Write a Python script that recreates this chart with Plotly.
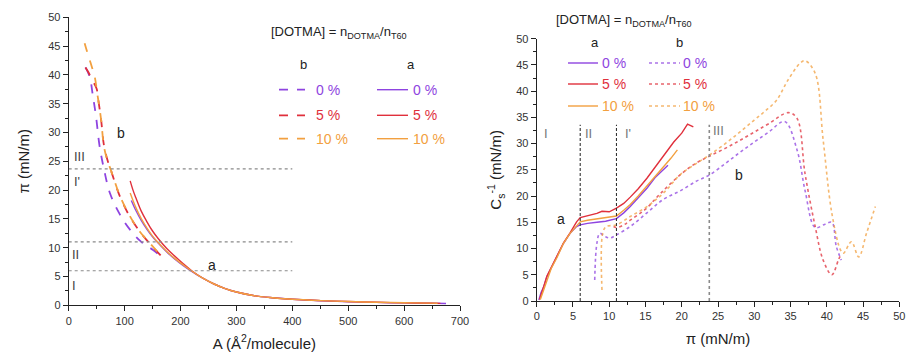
import plotly.graph_objects as go

# ---------------- DATA ----------------
# Left panel: pi-A isotherms
A_a0 = [112, 120, 130, 140, 150, 160, 175, 190, 205, 220, 240, 260, 280, 300, 330, 360, 400, 450, 500, 550, 600, 650, 675]
P_a0 = [18.2, 16.5, 14.7, 13.2, 11.9, 10.8, 9.3, 8.0, 6.9, 5.9, 4.7, 3.7, 2.9, 2.3, 1.7, 1.35, 1.05, 0.8, 0.62, 0.5, 0.42, 0.35, 0.3]
A_a5 = [110, 115, 120, 130, 140, 150, 160, 175, 190, 205, 220, 240, 260, 280, 300, 330, 360, 400, 450, 500, 550, 600, 650, 665]
P_a5 = [21.6, 20.0, 18.7, 16.3, 14.5, 12.9, 11.6, 9.9, 8.5, 7.2, 6.0, 4.7, 3.7, 2.9, 2.3, 1.7, 1.35, 1.05, 0.82, 0.65, 0.52, 0.43, 0.36, 0.34]
A_a10 = [110, 120, 130, 140, 150, 160, 175, 190, 205, 220, 240, 260, 280, 300, 330, 360, 400, 450, 500, 550, 600, 650, 660]
P_a10 = [19.5, 17.0, 15.0, 13.4, 12.0, 10.9, 9.4, 8.1, 7.0, 5.95, 4.7, 3.7, 2.9, 2.3, 1.7, 1.35, 1.05, 0.82, 0.66, 0.53, 0.45, 0.38, 0.36]

A_b0 = [30, 37.5, 43.5, 49, 55, 63, 74, 92, 110, 130, 151, 169]
P_b0 = [41.3, 39.7, 36.2, 32.7, 27.8, 23.7, 19.4, 15.7, 13.1, 11.0, 9.6, 8.2]
A_b5 = [30, 35, 40, 45, 50, 53, 58, 63, 70, 76, 92, 110, 128, 145, 165]
P_b5 = [41.3, 40.5, 39.5, 38.6, 37.6, 35.6, 32.2, 27.8, 25.0, 23.3, 18.8, 15.3, 12.7, 10.7, 8.6]
A_b10 = [28.5, 33, 37.5, 42, 46.5, 52, 58, 63, 69, 75, 92, 110, 127, 145, 167]
P_b10 = [45.5, 44.0, 42.6, 41.2, 39.7, 36.2, 32.2, 27.6, 25.2, 23.6, 18.9, 15.4, 12.8, 10.8, 8.4]

# region boundaries (mN/m)
regions_pi = [6, 11, 23.7]

# Right panel: compressional modulus vs surface pressure
S_a0 = [0.3, 0.6, 1.0, 1.4, 2.0, 2.8, 3.7, 4.6, 5.5, 6.0, 7.0, 8.3, 9.5, 11.0, 12.0, 12.9, 14.0, 15.2, 16.3, 17.0, 18.1]
C_a0 = [0.2, 1.6, 2.8, 4.6, 6.3, 8.4, 11.0, 12.9, 14.2, 14.5, 14.8, 15.0, 15.2, 15.7, 16.8, 18.0, 19.6, 21.5, 23.5, 24.5, 25.9]
S_a5 = [0.4, 0.7, 1.0, 1.4, 2.0, 2.8, 3.7, 4.6, 5.0, 5.5, 6.0, 7.0, 8.3, 9.0, 10.0, 11.0, 12.0, 12.9, 14.0, 15.2, 16.4, 17.5, 18.9, 20.0, 20.8, 21.6]
C_a5 = [0.3, 1.8, 2.9, 4.7, 6.4, 8.5, 11.1, 13.0, 14.0, 15.1, 15.9, 16.2, 16.7, 17.1, 17.0, 17.7, 18.6, 19.8, 21.4, 23.4, 25.6, 27.5, 30.3, 32.0, 33.7, 33.2]
S_a10 = [0.5, 0.8, 1.1, 1.5, 2.0, 2.8, 3.7, 4.6, 5.5, 6.0, 7.0, 8.3, 9.5, 11.0, 12.0, 12.9, 14.0, 15.2, 16.4, 17.5, 18.5, 19.4]
C_a10 = [0.3, 1.5, 2.6, 4.4, 6.2, 8.3, 11.0, 12.9, 14.4, 15.1, 15.4, 15.7, 15.9, 16.2, 17.3, 18.4, 20.0, 21.9, 24.0, 25.6, 27.2, 28.8]

S_b0 = [8.0, 8.3, 8.7, 9.4, 10.1, 11.0, 12.9, 15.2, 17.5, 19.8, 22.1, 23.8, 26.0, 28.0, 30.0, 32.0, 34.2, 35.9, 37.0, 38.4, 39.7, 40.7, 41.3, 42.0]
C_b0 = [4.0, 11.0, 12.9, 12.3, 12.0, 12.6, 14.2, 16.8, 19.4, 21.0, 22.9, 24.0, 26.2, 28.3, 30.3, 32.2, 34.2, 28.8, 21.1, 14.0, 14.6, 15.0, 10.5, 7.8]
S_b5 = [10.6, 11.0, 12.0, 13.0, 15.0, 17.0, 20.0, 22.0, 23.8, 26.0, 28.0, 30.0, 32.0, 34.7, 35.9, 37.0, 38.4, 39.5, 40.7, 41.6, 42.0]
C_b5 = [14.2, 14.0, 14.5, 15.5, 17.5, 20.4, 24.3, 26.3, 27.6, 29.1, 30.6, 32.2, 33.8, 35.9, 34.8, 24.3, 14.2, 7.8, 5.0, 7.8, 9.0]
S_b10 = [9.0, 9.1, 9.6, 11.0, 12.9, 15.2, 17.5, 19.8, 22.1, 23.8, 26.0, 28.0, 30.0, 31.5, 33.1, 34.6, 36.3, 37.0, 38.4, 39.5, 40.7, 41.9, 42.3, 43.4, 44.4, 45.5, 46.7]
C_b10 = [2.1, 12.9, 14.2, 14.5, 16.1, 18.0, 20.6, 24.1, 26.3, 27.8, 30.0, 32.2, 34.5, 36.2, 38.3, 42.0, 45.3, 45.8, 43.4, 30.7, 16.7, 9.7, 9.1, 11.3, 8.4, 13.0, 18.0]

# colours / labels
conc_labels = ["0 %", "5 %", "10 %"]
COL = ["#8E44E0", "#E0303C", "#F2A040"]

FONT = "Liberation Sans, Arial, sans-serif"
W, H = 907, 354


def px(x):
    return x / W


def py(y):
    return 1 - y / H


fig = go.Figure()

# --- left panel traces ---
for A, P, c in [(A_a0, P_a0, COL[0]), (A_a5, P_a5, COL[1]), (A_a10, P_a10, COL[2])]:
    fig.add_trace(go.Scatter(x=A, y=P, mode="lines", line=dict(color=c, width=1.4, shape="spline"),
                             xaxis="x", yaxis="y", showlegend=False))
for A, P, c in [(A_b0, P_b0, COL[0]), (A_b5, P_b5, COL[1]), (A_b10, P_b10, COL[2])]:
    fig.add_trace(go.Scatter(x=A, y=P, mode="lines", line=dict(color=c, width=1.8, dash="dash", shape="spline"),
                             xaxis="x", yaxis="y", showlegend=False))
# horizontal region lines
for v in regions_pi:
    fig.add_trace(go.Scatter(x=[0, 400], y=[v, v], mode="lines",
                             line=dict(color="#8a8a8a", width=1.2, dash="dot"),
                             xaxis="x", yaxis="y", showlegend=False))

# --- right panel traces ---
for S, C, c in [(S_a0, C_a0, COL[0]), (S_a5, C_a5, COL[1]), (S_a10, C_a10, COL[2])]:
    fig.add_trace(go.Scatter(x=S, y=C, mode="lines", line=dict(color=c, width=1.4),
                             xaxis="x2", yaxis="y2", showlegend=False))
for S, C, c in [(S_b0, C_b0, COL[0]), (S_b5, C_b5, COL[1]), (S_b10, C_b10, COL[2])]:
    fig.add_trace(go.Scatter(x=S, y=C, mode="lines", line=dict(color=c, width=1.6, dash="dot", shape="spline"),
                             opacity=0.75, xaxis="x2", yaxis="y2", showlegend=False))
# vertical region lines
for v, col, d in [(regions_pi[0], "#333333", "dash"), (regions_pi[1], "#333333", "dash"), (23.8, "#8a8a8a", "dot")]:
    fig.add_trace(go.Scatter(x=[v, v], y=[0, 33.6], mode="lines",
                             line=dict(color=col, width=1.1 if d == "dash" else 1.6, dash="3px,2px" if d == "dash" else "dot"),
                             xaxis="x2", yaxis="y2", showlegend=False))

tickfont = dict(family=FONT, size=11, color="#333")
axcommon = dict(showline=True, linecolor="#222", linewidth=1, ticks="outside", ticklen=5,
                tickcolor="#222", showgrid=False, zeroline=False, tickfont=tickfont)
TF = dict(size=15, family=FONT, color="#222")

fig.update_layout(
    width=W, height=H, autosize=False,
    margin=dict(l=0, r=0, t=0, b=0),
    paper_bgcolor="white", plot_bgcolor="white",
    font=dict(family=FONT, color="#222"),
    xaxis=dict(domain=[px(68.7), px(460)], range=[0, 700], dtick=100, anchor="y",
               minor=dict(ticks="outside", ticklen=3, dtick=50, tickcolor="#222"),
               title=dict(text="A (Å<sup>2</sup>/molecule)", font=TF, standoff=12),
               automargin=False, **axcommon),
    yaxis=dict(domain=[py(305.3), py(17.3)], range=[0, 50], dtick=5, anchor="x",
               minor=dict(ticks="outside", ticklen=3, dtick=2.5, tickcolor="#222"),
               title=dict(text="π (mN/m)", font=TF, standoff=14),
               automargin=False, **axcommon),
    xaxis2=dict(domain=[px(536.7), px(899.3)], range=[0, 50], dtick=5, anchor="y2",
                minor=dict(ticks="outside", ticklen=3, dtick=2.5, tickcolor="#222"),
                title=dict(text="π (mN/m)", font=TF, standoff=12),
                automargin=False, **axcommon),
    yaxis2=dict(domain=[py(301), py(38.7)], range=[0, 50], dtick=5, anchor="x2",
                minor=dict(ticks="outside", ticklen=3, dtick=2.5, tickcolor="#222"),
                title=dict(text="C<sub>s</sub><sup>-1</sup> (mN/m)", font=TF, standoff=10),
                automargin=False, **axcommon),
)

ann = []
shapes = []


def text(x, y, t, size=13, color="#222", xref="paper", yref="paper", xanchor="center"):
    ann.append(dict(x=x, y=y, xref=xref, yref=yref, text=t, showarrow=False,
                    font=dict(family=FONT, size=size, color=color), xanchor=xanchor, yanchor="middle"))


# region labels left (data coords)
for t, a, p in [("III", 20, 25.8), ("I'", 15, 21.5), ("II", 13, 8.9), ("I", 9.5, 3.4)]:
    text(a, p, t, size=13, color="#444", xref="x", yref="y")
text(92.8, 30, "b", size=14, xref="x", yref="y")
text(257, 7, "a", size=14, xref="x", yref="y")

# region labels right
for t, a, c in [("I", 1.3, 31.9), ("II", 7.1, 31.9), ("I'", 12.6, 31.9), ("III", 25.1, 32.5)]:
    text(a, c, t, size=13, color="#777", xref="x2", yref="y2")
text(3.4, 15.7, "a", size=14, xref="x2", yref="y2")
text(27.9, 24, "b", size=14, xref="x2", yref="y2")

# ---- left legend ----
title_txt = "[DOTMA] = n<sub>DOTMA</sub>/n<sub>T60</sub>"
text(px(339), py(33), title_txt, size=13)
text(px(303), py(64), "b", size=13)
text(px(411), py(64), "a", size=13)
rows_l = [89.7, 115.3, 138.7]
for i in range(3):
    yy = py(rows_l[i])
    shapes.append(dict(type="line", xref="paper", yref="paper", x0=px(279), x1=px(305), y0=yy, y1=yy,
                       line=dict(color=COL[i], width=1.8, dash="dash")))
    text(px(314), yy, conc_labels[i], size=14, color=COL[i], xanchor="left")
    shapes.append(dict(type="line", xref="paper", yref="paper", x0=px(377), x1=px(408), y0=yy, y1=yy,
                       line=dict(color=COL[i], width=1.4)))
    text(px(411), yy, conc_labels[i], size=14, color=COL[i], xanchor="left")

# ---- right legend ----
text(px(624), py(20), title_txt, size=13)
text(px(595), py(42), "a", size=13)
text(px(679), py(42), "b", size=13)
rows_r = [63, 84, 106]
for i in range(3):
    yy = py(rows_r[i])
    shapes.append(dict(type="line", xref="paper", yref="paper", x0=px(568), x1=px(598), y0=yy, y1=yy,
                       line=dict(color=COL[i], width=1.4)))
    text(px(600), yy, conc_labels[i], size=14, color=COL[i], xanchor="left")
    shapes.append(dict(type="line", xref="paper", yref="paper", x0=px(649), x1=px(680), y0=yy, y1=yy,
                       line=dict(color=COL[i], width=1.6, dash="dot"), opacity=0.75))
    text(px(681), yy, conc_labels[i], size=14, color=COL[i], xanchor="left")

fig.update_layout(annotations=ann, shapes=shapes)

fig.write_html("out.html")
